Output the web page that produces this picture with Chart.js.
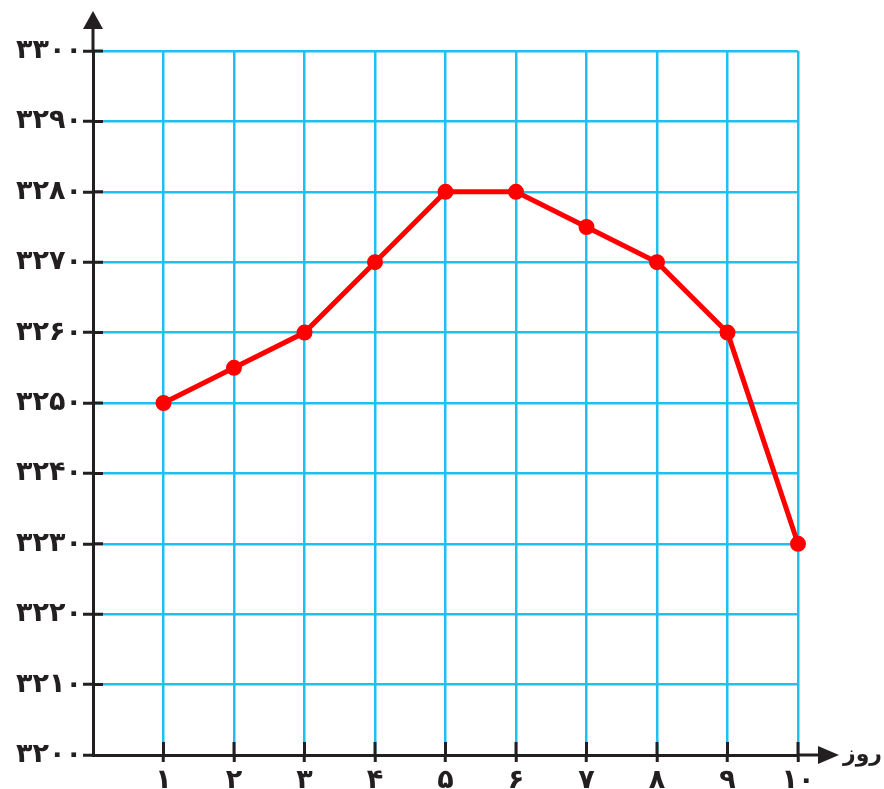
<!DOCTYPE html>
<html>
<head>
<meta charset="utf-8">
<script src="https://cdn.jsdelivr.net/npm/chart.js@4.4.0/dist/chart.umd.min.js"></script>
<style>
  html, body { margin: 0; padding: 0; background: #fff; }
  #wrap { width: 884px; height: 789px; }
</style>
</head>
<body>
<div id="wrap"><canvas id="chart" width="884" height="789"></canvas></div>
<script>
// روزها و مقدارها
const days = [1, 2, 3, 4, 5, 6, 7, 8, 9, 10];
const values = [3250, 3255, 3260, 3270, 3280, 3280, 3275, 3270, 3260, 3230];
const yMin = 3200, yMax = 3300, yStep = 10;
const xAxisLabel = 'روز';

const gridColor = '#1fc0ef';
const axisColor = '#231f20';
const fontFamily = '"DejaVu Sans", "Noto Sans", sans-serif';

const faDigits = '۰۱۲۳۴۵۶۷۸۹';
const toFa = n => String(n).replace(/\d/g, d => faDigits[d]);

// محورها با فلش و خط‌های کوتاه داخلی
const axisArrows = {
  id: 'axisArrows',
  afterDraw(chart) {
    const { ctx, chartArea, scales } = chart;
    const x0 = chartArea.left, y0 = chartArea.bottom;
    ctx.save();
    ctx.strokeStyle = axisColor;
    ctx.fillStyle = axisColor;
    ctx.lineWidth = 3;
    ctx.lineCap = 'butt';
    ctx.beginPath();
    ctx.moveTo(x0, chartArea.top);
    ctx.lineTo(x0, 26);
    ctx.moveTo(chartArea.right, y0);
    ctx.lineTo(822, y0);
    ctx.stroke();
    // y arrow
    ctx.beginPath();
    ctx.moveTo(x0, 11);
    ctx.lineTo(x0 - 10, 29);
    ctx.lineTo(x0 + 10, 29);
    ctx.closePath();
    ctx.fill();
    // x arrow
    ctx.beginPath();
    ctx.moveTo(839, y0);
    ctx.lineTo(818, y0 - 9);
    ctx.lineTo(818, y0 + 9);
    ctx.closePath();
    ctx.fill();
    // inner tick stubs
    ctx.beginPath();
    for (let v = yMin + yStep; v <= yMax; v += yStep) {
      const py = scales.y.getPixelForValue(v);
      ctx.moveTo(x0, py);
      ctx.lineTo(x0 + 10, py);
    }
    days.forEach(d => {
      const px = scales.x.getPixelForValue(d);
      ctx.moveTo(px, y0);
      ctx.lineTo(px, y0 - 13);
    });
    ctx.stroke();
    // axis label
    ctx.font = 'bold 22px ' + fontFamily;
    ctx.textAlign = 'right';
    ctx.textBaseline = 'middle';
    ctx.fillText(xAxisLabel, 882, y0);
    ctx.restore();
  }
};

new Chart(document.getElementById('chart'), {
  type: 'line',
  data: {
    datasets: [{
      data: days.map((d, i) => ({ x: d, y: values[i] })),
      borderColor: '#ff0000',
      backgroundColor: '#ff0000',
      borderWidth: 5,
      pointRadius: 5.5,
      pointHoverRadius: 5.5,
      tension: 0,
      fill: false,
      clip: false
    }]
  },
  options: {
    responsive: false,
    animation: false,
    events: [],
    layout: { padding: { top: 51, right: 86, left: 0, bottom: 0 } },
    plugins: { legend: { display: false }, tooltip: { enabled: false } },
    scales: {
      x: {
        type: 'linear',
        min: 0,
        max: 10,
        afterFit: s => { s.height = 34; },
        ticks: {
          stepSize: 1,
          autoSkip: false,
          maxRotation: 0,
          padding: 3,
          color: axisColor,
          font: { family: fontFamily, size: 27, weight: 'bold' },
          callback: v => v === 0 ? '' : toFa(v)
        },
        grid: {
          color: c => c.tick && c.tick.value === 0 ? 'rgba(0,0,0,0)' : gridColor,
          lineWidth: 2.5,
          tickLength: 7,
          tickColor: c => c.tick && c.tick.value === 0 ? 'rgba(0,0,0,0)' : axisColor,
          tickWidth: 3
        },
        border: { color: axisColor, width: 3 }
      },
      y: {
        min: yMin,
        max: yMax,
        afterFit: s => { s.width = 93; },
        ticks: {
          stepSize: yStep,
          autoSkip: false,
          padding: 1,
          color: axisColor,
          font: { family: fontFamily, size: 27, weight: 'bold' },
          callback: v => toFa(v)
        },
        grid: {
          color: c => c.tick && c.tick.value === yMin ? 'rgba(0,0,0,0)' : gridColor,
          lineWidth: 2.5,
          tickLength: 10,
          tickColor: axisColor,
          tickWidth: 3
        },
        border: { color: axisColor, width: 3 }
      }
    }
  },
  plugins: [axisArrows]
});
</script>
</body>
</html>
